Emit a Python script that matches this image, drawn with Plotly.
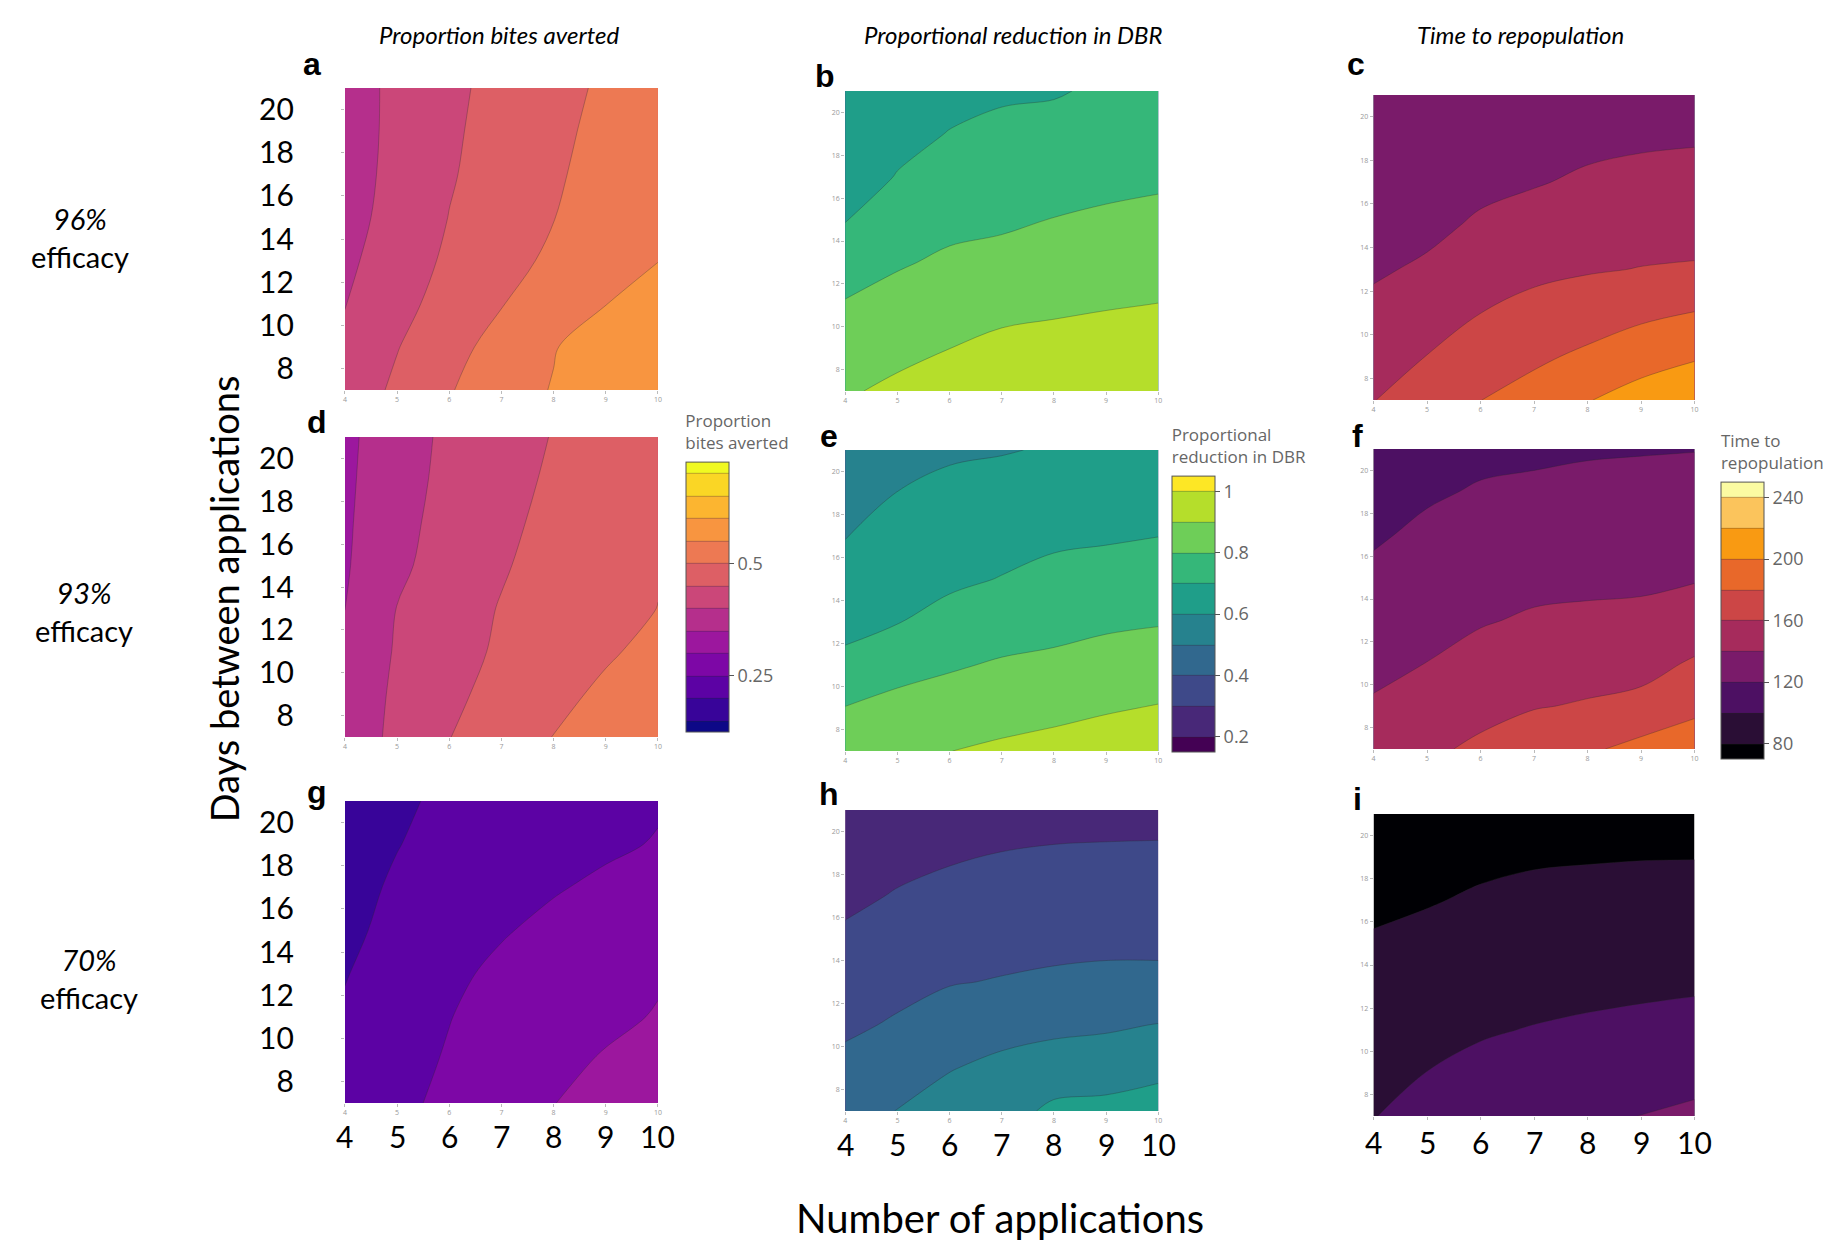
import plotly.graph_objects as go

W, H = 1842, 1243

# ---------------- data ----------------
n_apps = [4, 5, 6, 7, 8, 9, 10]                 # Number of applications (x)
days = [7, 9, 11, 13, 15, 17, 19, 21]           # Days between applications (y)
y_ticks = [8, 10, 12, 14, 16, 18, 20]
x_ticks = [4, 5, 6, 7, 8, 9, 10]

# Proportion bites averted, one row per "days" value (rows: 7..21, cols: 4..10 applications)
bites_96 = [
    [0.420, 0.459, 0.497, 0.526, 0.553, 0.575, 0.595],
    [0.4125, 0.448, 0.484, 0.517, 0.547, 0.577, 0.590],
    [0.398, 0.435, 0.468, 0.498, 0.524, 0.549, 0.573],
    [0.390, 0.425, 0.458, 0.485, 0.508, 0.529, 0.549],
    [0.383, 0.417, 0.451, 0.474, 0.499, 0.524, 0.548],
    [0.380, 0.413, 0.446, 0.470, 0.494, 0.517, 0.540],
    [0.379, 0.411, 0.443, 0.467, 0.490, 0.512, 0.535],
    [0.380, 0.410, 0.440, 0.464, 0.486, 0.507, 0.528],
]
bites_93 = [
    [0.372, 0.411, 0.449, 0.475, 0.501, 0.524, 0.545],
    [0.373, 0.407, 0.440, 0.465, 0.487, 0.509, 0.530],
    [0.374, 0.403, 0.432, 0.457, 0.476, 0.494, 0.513],
    [0.349, 0.401, 0.426, 0.453, 0.468, 0.484, 0.5005],
    [0.345, 0.391, 0.420, 0.445, 0.470, 0.488, 0.497],
    [0.343, 0.386, 0.416, 0.439, 0.463, 0.484, 0.498],
    [0.341, 0.382, 0.412, 0.434, 0.457, 0.479, 0.495],
    [0.3395, 0.378, 0.410, 0.431, 0.452, 0.473, 0.494],
]
bites_70 = [
    [0.220, 0.240, 0.260, 0.280, 0.299, 0.318, 0.334],
    [0.215, 0.238, 0.253, 0.271, 0.288, 0.304, 0.318],
    [0.205, 0.228, 0.249, 0.263, 0.276, 0.290, 0.303],
    [0.198, 0.219, 0.240, 0.260, 0.276, 0.285, 0.295],
    [0.192, 0.210, 0.228, 0.246, 0.262, 0.276, 0.288],
    [0.190, 0.204, 0.218, 0.232, 0.246, 0.259, 0.270],
    [0.186, 0.199, 0.210, 0.221, 0.232, 0.242, 0.253],
    [0.180, 0.195, 0.206, 0.216, 0.226, 0.236, 0.245],
]

# Proportional reduction in DBR, one list per number of applications (values over days 7..21)
dbr_96_by_apps = [
    [0.890, 0.849, 0.808, 0.753, 0.696, 0.655, 0.635, 0.620],
    [0.918, 0.876, 0.834, 0.791, 0.748, 0.704, 0.675, 0.655],
    [0.943, 0.8995, 0.858, 0.815, 0.776, 0.740, 0.703, 0.675],
    [0.962, 0.917, 0.881, 0.826, 0.786, 0.753, 0.720, 0.688],
    [0.970, 0.929, 0.886, 0.844, 0.802, 0.767, 0.732, 0.692],
    [0.977, 0.936, 0.895, 0.854, 0.813, 0.777, 0.745, 0.715],
    [0.980, 0.943, 0.902, 0.863, 0.822, 0.785, 0.755, 0.728],
]
dbr_93_by_apps = [
    [0.873, 0.803, 0.724, 0.672, 0.633, 0.597, 0.570, 0.548],
    [0.890, 0.832, 0.763, 0.697, 0.665, 0.632, 0.601, 0.577],
    [0.899, 0.845, 0.790, 0.730, 0.684, 0.651, 0.618, 0.590],
    [0.916, 0.862, 0.810, 0.755, 0.703, 0.670, 0.633, 0.595],
    [0.930, 0.876, 0.820, 0.771, 0.723, 0.685, 0.645, 0.607],
    [0.945, 0.892, 0.838, 0.785, 0.737, 0.690, 0.658, 0.625],
    [0.960, 0.905, 0.850, 0.794, 0.746, 0.699, 0.670, 0.640],
]
dbr_70_by_apps = [
    [0.465, 0.425, 0.384, 0.350, 0.315, 0.281, 0.255, 0.235],
    [0.502, 0.455, 0.410, 0.375, 0.340, 0.306, 0.275, 0.255],
    [0.535, 0.496, 0.446, 0.395, 0.360, 0.323, 0.290, 0.265],
    [0.560, 0.520, 0.470, 0.405, 0.370, 0.335, 0.301, 0.275],
    [0.620, 0.545, 0.478, 0.415, 0.375, 0.340, 0.305, 0.280],
    [0.630, 0.550, 0.488, 0.420, 0.380, 0.345, 0.306, 0.283],
    [0.645, 0.575, 0.503, 0.420, 0.380, 0.350, 0.305, 0.288],
]

# Time to repopulation (days), one list per number of applications (values over days 7..21)
repop_96_by_apps = [
    [159.5, 152.4, 144.9, 137.5, 131.0, 126.0, 123.0, 121.0],
    [169.0, 160.3, 151.6, 142.9, 135.5, 130.0, 126.0, 123.0],
    [179.8, 170.0, 159.9, 151.4, 142.8, 135.5, 130.0, 126.0],
    [187.5, 176.6, 165.8, 155.9, 147.2, 138.8, 133.0, 129.0],
    [199.0, 183.5, 170.5, 158.5, 150.5, 142.6, 136.0, 132.0],
    [208.5, 191.5, 176.0, 160.5, 153.0, 145.0, 137.5, 134.0],
    [215.5, 198.0, 180.5, 162.0, 152.0, 146.0, 138.5, 135.0],
]
repop_93_by_apps = [
    [147.9, 141.8, 135.8, 129.7, 123.7, 117.8, 113.0, 109.0],
    [156.0, 147.4, 140.2, 134.6, 129.0, 123.5, 117.8, 114.0],
    [164.0, 153.5, 146.0, 138.7, 133.0, 127.5, 121.5, 116.0],
    [171.0, 159.0, 151.5, 142.0, 135.5, 130.5, 122.5, 117.5],
    [177.0, 161.5, 153.0, 143.0, 136.5, 131.0, 124.0, 118.5],
    [186.0, 165.0, 154.0, 143.8, 137.0, 131.5, 125.0, 119.0],
    [191.0, 175.5, 162.0, 149.5, 138.5, 132.0, 126.0, 119.5],
]
repop_70_by_apps = [
    [99.5, 95.0, 90.4, 85.8, 81.3, 77.5, 75.0, 73.0],
    [105.6, 100.2, 94.9, 89.5, 84.2, 79.0, 75.5, 73.5],
    [109.7, 104.1, 98.5, 93.0, 87.4, 81.8, 77.0, 74.5],
    [112.0, 106.4, 100.7, 95.0, 89.3, 83.6, 78.5, 75.5],
    [116.0, 108.2, 102.3, 96.5, 90.6, 84.8, 79.0, 76.0],
    [120.3, 110.5, 103.5, 97.7, 91.8, 85.5, 79.5, 76.5],
    [124.0, 113.5, 105.0, 98.5, 92.5, 86.0, 79.6, 77.0],
]


def by_days(cols):
    """Turn one-list-per-application data into rows over days (z[y][x])."""
    return [list(r) for r in zip(*cols)]


col_titles = ["Proportion bites averted", "Proportional reduction in DBR", "Time to repopulation"]
row_labels = ["96%", "93%", "70%"]
letters = ["a", "b", "c", "d", "e", "f", "g", "h", "i"]

# ---------------- styling ----------------
BIG = "Lato, 'Open Sans', sans-serif"

# inferno-like scale as it appears in the reference (band colours)
inferno_ref = ["#000004", "#2a0e35", "#4d1063", "#7a1b6a", "#a62b5c",
               "#cc4646", "#e8682a", "#f99a12", "#fbc45c", "#fbfba2"]
inferno_scale = [[i / (len(inferno_ref) - 1), c] for i, c in enumerate(inferno_ref)]

col_x = [(336, 650), (838, 1152), (1368, 1690)]
row_y = [
    [(80, 382), (83, 383), (87, 392)],
    [(429, 729), (442, 743), (441, 741)],
    [(793, 1095), (802, 1103), (806, 1108)],
]

metric_cfg = [
    dict(cs="Plasma", start=0.15, end=0.7, size=0.05,
         cbx=678, cby=404, cbbot=724, title="Proportion<br>bites averted", dtick=0.25),
    dict(cs="Viridis", start=0.2, end=1.0, size=0.1,
         cbx=1166, cby=418, cbbot=744, title="Proportional<br>reduction in DBR", dtick=0.2),
    dict(cs=inferno_scale, start=80, end=240, size=20,
         cbx=1717, cby=424, cbbot=751, title="Time to<br>repopulation", dtick=40),
]

data_grid = [
    [bites_96, by_days(dbr_96_by_apps), by_days(repop_96_by_apps)],
    [bites_93, by_days(dbr_93_by_apps), by_days(repop_93_by_apps)],
    [bites_70, by_days(dbr_70_by_apps), by_days(repop_70_by_apps)],
]

fig = go.Figure()
layout = dict(
    width=W, height=H,
    margin=dict(l=0, r=0, t=0, b=0),
    paper_bgcolor="white", plot_bgcolor="white",
    showlegend=False,
    font=dict(family="'Open Sans', sans-serif", color="#666"),
)
annotations = []

idx = 0
for r in range(3):
    for c in range(3):
        idx += 1
        sfx = "" if idx == 1 else str(idx)
        cfg = metric_cfg[c]
        x0, x1 = col_x[c]
        y0, y1 = row_y[r][c]
        show_cb = (r == 1)
        trace = go.Contour(
            x=n_apps, y=days, z=data_grid[r][c],
            xaxis="x" + sfx, yaxis="y" + sfx,
            colorscale=cfg["cs"], autocontour=False,
            contours=dict(start=cfg["start"], end=cfg["end"], size=cfg["size"], coloring="fill"),
            line=dict(width=0.6, color="rgba(40,40,40,0.5)"),
            showscale=show_cb,
            hoverinfo="skip",
        )
        if show_cb:
            trace.colorbar = dict(
                x=cfg["cbx"] / W, xanchor="left", xpad=0,
                y=1 - cfg["cby"] / H, yanchor="top", ypad=0,
                len=cfg["cbbot"] - cfg["cby"], lenmode="pixels",
                thickness=43, thicknessmode="pixels",
                outlinewidth=1, outlinecolor="#555",
                title=dict(text=cfg["title"], side="top",
                           font=dict(size=17, color="#666", family="'Open Sans', sans-serif")),
                tickmode="linear", tick0=0, dtick=cfg["dtick"],
                ticks="outside", ticklen=5, tickcolor="#555",
                tickfont=dict(size=18, color="#666", family="'Open Sans', sans-serif"),
            )
        fig.add_trace(trace)

        xa = dict(domain=[x0 / W, x1 / W], anchor="y" + sfx, range=[4, 10],
                  tickmode="array", tickvals=x_ticks, ticks="outside", ticklen=3,
                  tickcolor="#bbb", tickfont=dict(size=7, color="#999"),
                  showgrid=False, zeroline=False, showline=False)
        ya = dict(domain=[1 - y1 / H, 1 - y0 / H], anchor="x" + sfx, range=[7, 21],
                  tickmode="array", tickvals=y_ticks, ticks="outside", ticklen=3,
                  tickcolor="#bbb", tickfont=dict(size=7, color="#999"),
                  showgrid=False, zeroline=False, showline=False)
        if c == 0:
            ya["tickfont"] = dict(size=30, color="black", family=BIG)
            ya["ticklabelstandoff"] = 41
        if r == 2 and c == 2:
            xa["showticklabels"] = False
        layout["xaxis" + sfx] = xa
        layout["yaxis" + sfx] = ya

        # big x tick labels under the bottom row
        if r == 2:
            big_y = {0: 1128, 1: 1136, 2: 1134}[c]
            for v in x_ticks:
                annotations.append(dict(
                    x=v, y=1 - big_y / H, xref="x" + sfx, yref="paper",
                    text=str(v), showarrow=False, xanchor="center", yanchor="middle",
                    font=dict(size=30, color="black", family=BIG)))

# panel letters
letter_pos = [(303, 56), (818, 68), (1350, 56),
              (308, 414), (822, 428), (1352, 428),
              (308, 784), (822, 786), (1352, 791)]
for L, (px, py) in zip(letters, letter_pos):
    annotations.append(dict(x=px / W, y=1 - py / H, xref="paper", yref="paper",
                            text="<b>%s</b>" % L, showarrow=False,
                            xanchor="center", yanchor="middle",
                            font=dict(size=32, color="black", family="'Liberation Sans', Arial, sans-serif")))

# column titles
for t, cx in zip(col_titles, [491, 1006, 1515]):
    annotations.append(dict(x=cx / W, y=1 - 26 / H, xref="paper", yref="paper",
                            text="<i>%s</i>" % t, showarrow=False,
                            xanchor="center", yanchor="middle",
                            font=dict(size=24, color="black", family=BIG)))

# row labels
for t, (cx, cy) in zip(row_labels, [(70, 229), (74, 603), (79, 970)]):
    annotations.append(dict(x=cx / W, y=1 - cy / H, xref="paper", yref="paper",
                            text="<i>%s</i><br>efficacy" % t, showarrow=False,
                            xanchor="center", yanchor="middle",
                            font=dict(size=29, color="black", family=BIG)))

# axis titles
annotations.append(dict(x=215 / W, y=1 - 591 / H, xref="paper", yref="paper",
                        text="Days between applications", showarrow=False, textangle=-90,
                        xanchor="center", yanchor="middle",
                        font=dict(size=38, color="black", family=BIG)))
annotations.append(dict(x=993 / W, y=1 - 1210 / H, xref="paper", yref="paper",
                        text="Number of applications", showarrow=False,
                        xanchor="center", yanchor="middle",
                        font=dict(size=40, color="black", family=BIG)))

layout["annotations"] = annotations
fig.update_layout(**layout)
fig.write_html("out.html")
